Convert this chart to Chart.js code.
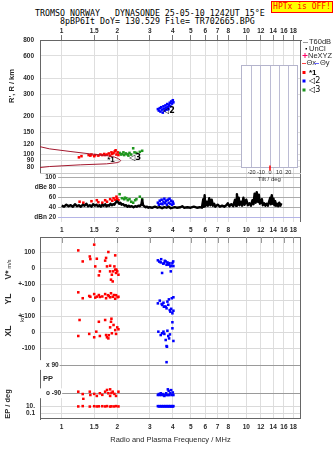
<!DOCTYPE html>
<html>
<head>
<meta charset="utf-8">
<title>Dynasonde ionogram</title>
<script src="https://cdn.jsdelivr.net/npm/chart.js@4.4.1/dist/chart.umd.min.js"></script>
<style>
  body { margin: 0; background: #fff; }
  #page { position: relative; width: 335px; height: 451px; overflow: hidden; background: #fff; }
  #page canvas { position: absolute; }
  .hdr { position: absolute; font: 8.3px "DejaVu Sans Mono", monospace; color: #000; white-space: pre; line-height: 8px; }
  #hptx { position: absolute; left: 271px; top: 1px; width: 60px; height: 10px; border: 1px solid #f00; background: #ff0;
          color: #f00; font: 8px "DejaVu Sans Mono", monospace; line-height: 10px; text-align: center; white-space: pre; }
</style>
</head>
<body>
<div id="page">
  <div class="hdr" style="left:35px; top:9px">TROMSO NORWAY   DYNASONDE 25-05-10 1242UT 15°E</div>
  <div class="hdr" style="left:60px; top:17px">8pBP6It DoY= 130.529 File= TR702665.BPG</div>
  <div id="hptx">HPTx is OFF!</div>
  <canvas id="hgt" width="335" height="150" style="left:0; top:24px"></canvas>
  <canvas id="amp" width="335" height="62" style="left:0; top:174px"></canvas>
  <canvas id="low" width="335" height="215" style="left:0; top:236px"></canvas>
  <canvas id="tilt" width="57" height="120" style="left:241px; top:65px"></canvas>
</div>
<script>
// frequency axis (MHz) shared by every panel
var freqTicks = [1, 1.5, 2, 3, 4, 5, 6, 7, 8, 10, 12, 14, 16, 18];
var heightTicks = [800, 600, 400, 300, 200, 150, 120, 100, 90, 80];
var ampTicks = [100, 80, 60, 40, 20];
var tiltTicks = [-20, -10, 0, 10, 20];

// model profile, upper branch outwards then lower branch back (f MHz, km)
var profile = [[0.763, 115.3], [0.86, 110.8], [1.11, 105.7], [1.42, 101.2], [1.75, 98.1], [1.93, 95.5],
  [2.00, 93.5], [2.07, 91.0], [2.09, 89.5], [2.06, 87.8], [2.00, 86.3], [1.75, 84.4], [1.26, 82.9],
  [0.86, 80.4], [0.763, 79.0]];

// echo virtual heights (f MHz, km)
var echo1Height = [[1.24, 95], [1.28, 97], [1.40, 99], [1.43, 98], [1.45, 100], [1.50, 97], [1.52, 99],
  [1.58, 98], [1.62, 100], [1.66, 99], [1.70, 101], [1.72, 99], [1.76, 100], [1.80, 102], [1.83, 98],
  [1.86, 104], [1.88, 101], [1.91, 103], [1.94, 106], [1.96, 108], [1.98, 100], [2.01, 104], [2.03, 99]];
var echo2Height = [[3.32, 228], [3.36, 222], [3.40, 232], [3.43, 218], [3.46, 236], [3.50, 226], [3.53, 214],
  [3.56, 240], [3.58, 230], [3.62, 222], [3.65, 244], [3.68, 234], [3.70, 226], [3.73, 250], [3.76, 238],
  [3.79, 228], [3.82, 246], [3.85, 256], [3.88, 240], [3.92, 262], [3.96, 252], [4.00, 268], [4.03, 258]];
var echo3Height = [[2.06, 103], [2.10, 100], [2.12, 101], [2.16, 104], [2.18, 99], [2.22, 102], [2.24, 101],
  [2.28, 100], [2.30, 98], [2.33, 103], [2.38, 100], [2.44, 112], [2.48, 104], [2.54, 103], [2.65, 105], [2.73, 107]];

// echo amplitudes and unclassified level (f MHz, dB)
var echo1Amp = [[1.25, 52], [1.31, 50], [1.45, 53], [1.55, 55], [1.58, 51], [1.66, 50], [1.72, 55], [1.76, 52],
  [1.83, 57], [1.88, 54], [1.91, 59], [1.95, 56], [1.98, 62], [2.00, 58], [2.03, 55]];
var echo2Amp = [[3.32, 50], [3.36, 46], [3.40, 54], [3.44, 48], [3.48, 56], [3.52, 47], [3.56, 52], [3.60, 58],
  [3.64, 49], [3.68, 54], [3.72, 46], [3.76, 56], [3.80, 50], [3.84, 58], [3.88, 48], [3.92, 54], [3.96, 46],
  [4.00, 52], [4.03, 48]];
var echo3Amp = [[2.06, 67], [2.12, 59], [2.18, 57], [2.20, 60], [2.24, 59], [2.28, 55], [2.33, 57], [2.38, 52],
  [2.44, 50], [2.50, 55], [2.54, 57], [2.65, 62], [2.73, 57]];
var unclAmp = [[1.00, 44], [1.03, 42], [1.06, 46], [1.09, 43], [1.12, 45], [1.15, 42], [1.18, 47], [1.21, 43],
  [1.24, 45], [1.27, 42], [1.30, 46], [1.33, 44], [1.36, 48], [1.39, 43], [1.42, 45], [1.45, 42], [1.48, 47],
  [1.51, 44], [1.54, 46], [1.57, 43], [1.60, 45], [1.63, 42], [1.66, 46], [1.69, 44], [1.72, 47], [1.75, 43],
  [1.78, 45], [1.81, 44], [1.84, 48], [1.87, 45], [1.90, 47], [1.93, 46], [1.96, 50], [1.99, 53], [2.02, 51],
  [2.05, 48], [2.08, 50], [2.11, 46], [2.15, 47], [2.19, 44], [2.23, 45], [2.27, 42], [2.31, 44], [2.35, 42],
  [2.40, 43], [2.45, 41], [2.50, 43], [2.55, 42], [2.60, 44], [2.65, 43], [2.70, 46], [2.73, 56], [2.76, 45],
  [2.80, 43], [2.85, 41], [2.90, 42], [2.95, 40], [3.0, 41], [3.1, 40], [3.2, 42], [3.3, 40], [3.4, 41],
  [3.5, 39], [3.6, 41], [3.7, 40], [3.8, 42], [3.9, 39], [4.0, 40], [4.1, 41], [4.2, 40], [4.4, 41], [4.5, 43],
  [4.6, 40], [4.8, 41], [5.0, 40], [5.2, 42], [5.4, 40], [5.6, 41], [5.75, 40], [5.85, 57], [5.9, 42],
  [5.95, 65], [6.0, 43], [6.1, 52], [6.2, 44], [6.3, 59], [6.4, 45], [6.5, 56], [6.6, 44], [6.7, 48], [6.8, 42],
  [7.0, 46], [7.2, 42], [7.4, 44], [7.6, 42], [7.8, 45], [7.95, 49], [8.1, 43], [8.3, 47], [8.5, 43], [8.7, 56],
  [8.8, 44], [8.9, 67], [9.0, 46], [9.1, 60], [9.2, 45], [9.35, 52], [9.5, 44], [9.65, 60], [9.8, 46],
  [10.0, 56], [10.2, 45], [10.4, 49], [10.6, 44], [10.8, 55], [10.95, 47], [11.1, 68], [11.25, 50], [11.4, 71],
  [11.55, 52], [11.7, 66], [11.85, 48], [12.0, 50], [12.15, 57], [12.3, 45], [12.5, 49], [12.7, 44], [12.9, 48],
  [13.1, 44], [13.3, 52], [13.5, 60], [13.6, 47], [13.75, 65], [13.9, 48], [14.05, 58], [14.2, 45], [14.35, 53],
  [14.5, 44], [14.7, 48], [14.9, 43], [15.1, 50], [15.3, 44], [15.5, 49]];

// drift velocity V* (m/s)
var echo1V = [[1.23, 110], [1.30, 41], [1.42, 72], [1.43, 56], [1.50, 146], [1.52, 10], [1.55, 58], [1.59, -46],
  [1.61, -21], [1.72, 46], [1.74, 63], [1.76, 10], [1.79, 100], [1.83, 14], [1.83, -21], [1.85, -73], [1.87, -42],
  [1.89, -84], [1.90, -21], [1.93, 10], [1.95, 79], [1.95, -10], [1.97, -31], [1.98, -10], [2.00, -21], [2.03, -42]];
var echo2V = [[3.32, 48], [3.38, 40], [3.44, 35], [3.46, 55], [3.50, -31], [3.55, 27], [3.58, 30], [3.62, 45],
  [3.66, 41], [3.70, 20], [3.74, 35], [3.76, 25], [3.80, 21], [3.84, 30], [3.88, 10], [3.90, -21], [3.93, 15],
  [3.98, 31], [4.02, 41], [4.03, 12]];

// echolocation YL and XL (km)
var echo1YL = [[1.23, 48], [1.30, 11], [1.41, 25], [1.43, 20], [1.50, 37], [1.52, 15], [1.55, 21], [1.59, 31],
  [1.61, 19], [1.66, 22], [1.72, 37], [1.74, 11], [1.78, 30], [1.80, 25], [1.83, 17], [1.85, 42], [1.89, 20],
  [1.92, 31], [1.95, 8], [1.97, 30], [2.01, 18], [2.03, 20]];
var echo2YL = [[3.32, -21], [3.40, -4], [3.48, -25], [3.51, -31], [3.56, -17], [3.58, -42], [3.62, -42],
  [3.66, -42], [3.70, -52], [3.74, -10], [3.78, -30], [3.81, 4], [3.85, -63], [3.88, -73], [3.92, -55],
  [3.95, 11], [3.98, -83], [4.03, 17], [4.03, -67]];
var echo1XL = [[1.25, 75], [1.23, -25], [1.41, -12], [1.50, -33], [1.54, 2], [1.59, 64], [1.61, -25], [1.72, 75],
  [1.74, -19], [1.76, -33], [1.79, -40], [1.80, -20], [1.83, 29], [1.85, 64], [1.86, 83], [1.87, -8], [1.91, 44],
  [1.95, 12], [1.97, -12], [2.00, 29], [2.03, 17]];
var echo2XL = [[3.34, 2], [3.44, -19], [3.50, -8], [3.56, 2], [3.60, -12], [3.66, -50], [3.70, -88], [3.72, -92],
  [3.74, 8], [3.78, -25], [3.82, -40], [3.86, -15], [3.98, 61], [3.98, 23], [4.03, -56]];

// polarization PP and error EP (deg)
var echo1PP = [[1.23, -80], [1.30, -95], [1.31, -126], [1.42, -80], [1.43, -101], [1.50, -94], [1.55, -107],
  [1.61, -90], [1.66, -100], [1.72, -80], [1.76, -69], [1.79, -90], [1.83, -107], [1.83, -65], [1.86, -88],
  [1.89, -80], [1.93, -94], [1.97, -107], [2.03, -80]];
var echo2PP = [[3.32, -101], [3.36, -95], [3.40, -101], [3.44, -90], [3.48, -101], [3.52, -95], [3.56, -101],
  [3.60, -107], [3.64, -101], [3.68, -90], [3.70, 108], [3.72, -101], [3.76, -65], [3.78, -101], [3.80, -75],
  [3.84, -101], [3.88, -90], [3.92, -70], [3.96, -101], [4.00, -85], [4.03, -101]];
var echo1EP = [[1.23, 12], [1.30, 15], [1.42, 11], [1.50, 14], [1.55, 12], [1.59, 13], [1.66, 14], [1.72, 12],
  [1.76, 15], [1.83, 11], [1.86, 13], [1.92, 12], [1.97, 15], [2.03, 12]];
var echo2EP = [[3.32, 15], [3.36, 12], [3.40, 15], [3.44, 12], [3.48, 15], [3.52, 12], [3.56, 15], [3.60, 12],
  [3.64, 15], [3.68, 12], [3.72, 15], [3.76, 12], [3.80, 15], [3.84, 12], [3.88, 15], [3.92, 12], [3.96, 15],
  [4.00, 12], [4.03, 15]];

// mean tilt (deg)
var tiltMark = [[0, 0]];

var red = '#ff0000', blue = '#0000ff', green = '#1e961e', maroon = '#a3182e', ink = '#2a2a2a';
var tickFont = { family: 'Liberation Sans', size: 6.5, weight: 'bold' };
var fLo = 0.763, fHi = 19.8;

Chart.defaults.font.family = 'Liberation Sans';

function pts(a) { return a.map(function (p) { return { x: p[0], y: p[1] }; }); }
function setTicks(list) { return function (s) { s.ticks = list.map(function (v) { return { value: v }; }); }; }
function fitW(w) { return function (s) { s.width = w; s.paddingTop = 0; s.paddingBottom = 0; }; }
function fitH(h) { return function (s) { s.height = h; s.paddingLeft = 0; s.paddingRight = 0; }; }
function labelMap(m) { return function (v) { return m[v] !== undefined ? m[v] : String(v); }; }

function dots(list, color, yID) {
  return { data: pts(list), yAxisID: yID || 'y', pointStyle: 'rect', pointRadius: 1.8, pointBorderWidth: 0,
           pointBackgroundColor: color, pointBorderColor: color, backgroundColor: color, borderColor: color };
}

function freqAxis(pos, h, lo) {
  return {
    type: 'logarithmic', position: pos, min: lo, max: fHi,
    afterBuildTicks: setTicks(freqTicks), afterFit: fitH(h),
    border: { display: pos === 'top', color: '#666' },
    grid: { color: '#dedede', drawTicks: pos === 'top', tickLength: 5, tickColor: '#777' },
    ticks: { autoSkip: false, maxRotation: 0, padding: pos === 'top' ? 0 : 4, color: ink, font: tickFont,
             callback: function (v) { return String(v); } }
  };
}

function base(o) {
  o.responsive = false;
  o.animation = false;
  o.events = [];
  o.plugins = Object.assign({ legend: { display: false }, tooltip: { enabled: false } }, o.plugins || {});
  return o;
}

// free text and small key marks, given in page coordinates or data values
var freeText = {
  id: 'freeText',
  afterDraw: function (chart, args, opts) {
    var ctx = chart.ctx, top = opts.top || 0;
    (opts.items || []).forEach(function (it) {
      var x = it.x, y = it.y - top;
      if (it.fx !== undefined) {
        x = chart.scales.x.getPixelForValue(it.fx);
        y = chart.scales.y.getPixelForValue(it.fy);
      }
      ctx.save();
      ctx.strokeStyle = ctx.fillStyle = it.color || ink;
      ctx.lineWidth = 1;
      if (it.mark === 'line') {
        ctx.beginPath(); ctx.moveTo(x, Math.round(y) + 0.5); ctx.lineTo(it.x2, Math.round(y) + 0.5); ctx.stroke();
      } else if (it.mark === 'dot') {
        ctx.fillRect(x - 0.5, y - 0.5, 1.5, 1.5);
      } else if (it.mark === 'plus') {
        ctx.beginPath(); ctx.moveTo(x - 2.5, y); ctx.lineTo(x + 2.5, y); ctx.moveTo(x, y - 2.5); ctx.lineTo(x, y + 2.5); ctx.stroke();
      } else if (it.mark === 'box') {
        ctx.fillRect(x - 1.5, y - 1.5, 3, 3);
      } else {
        ctx.translate(x, y);
        if (it.rot) ctx.rotate(it.rot * Math.PI / 180);
        ctx.font = it.font || '7.5px "Liberation Sans"';
        ctx.textAlign = it.align || 'center';
        ctx.textBaseline = 'middle';
        ctx.fillText(it.t, 0, 0);
      }
      ctx.restore();
    });
  }
};

// panel outline pieces and inner frequency ticks
var frame = {
  id: 'frame',
  beforeDraw: function (chart, args, o) {
    if (!o.fill) return;
    var a = chart.chartArea;
    chart.ctx.fillStyle = o.fill;
    chart.ctx.fillRect(a.left, a.top, a.width, a.height);
  },
  beforeDatasetsDraw: function (chart, args, o) {
    var a = chart.chartArea, ctx = chart.ctx;
    ctx.save();
    ctx.lineWidth = 1;
    (o.sides || []).forEach(function (s) {
      ctx.strokeStyle = s.color;
      ctx.beginPath();
      if (s.side === 'right') { ctx.moveTo(a.right - 0.5, a.top); ctx.lineTo(a.right - 0.5, a.bottom); }
      if (s.side === 'left') { ctx.moveTo(a.left + 0.5, a.top); ctx.lineTo(a.left + 0.5, a.bottom); }
      if (s.side === 'top') { ctx.moveTo(a.left, a.top + 0.5); ctx.lineTo(a.right, a.top + 0.5); }
      if (s.side === 'bottom') { ctx.moveTo(a.left, a.bottom - 0.5); ctx.lineTo(a.right, a.bottom - 0.5); }
      ctx.stroke();
    });
    if (o.innerTicks) {
      ctx.strokeStyle = '#999';
      ctx.beginPath();
      freqTicks.forEach(function (f) {
        var px = Math.round(chart.scales.x.getPixelForValue(f)) + 0.5;
        ctx.moveTo(px, a.top); ctx.lineTo(px, a.top + o.innerTicks);
      });
      ctx.stroke();
    }
    ctx.restore();
  }
};

Chart.register(freeText, frame);

var legendFont = '7.5px "Liberation Sans"';

// virtual height panel
new Chart(document.getElementById('hgt'), {
  type: 'scatter',
  data: { datasets: [
    { data: pts(profile), showLine: true, borderColor: maroon, borderWidth: 1, pointRadius: 0 },
    dots(echo1Height, red), dots(echo3Height, green), dots(echo2Height, blue)
  ] },
  options: base({
    layout: { padding: { right: 34 }, autoPadding: false },
    scales: {
      x: freqAxis('top', 16, fLo),
      y: { type: 'logarithmic', min: 70.2, max: 800, afterBuildTicks: setTicks(heightTicks), afterFit: fitW(40),
           border: { color: '#666' }, grid: { color: '#dedede', drawTicks: false },
           ticks: { padding: 6, color: ink, font: tickFont, callback: function (v) { return String(v); } } }
    },
    plugins: {
      frame: { sides: [{ side: 'right', color: '#666' }, { side: 'bottom', color: '#c8c8c8' }] },
      freeText: { top: 24, items: [
        { t: "R', R / km", x: 12, y: 86, rot: -90, font: 'bold 7.5px "Liberation Sans"' },
        { t: '*1', fx: 1.85, fy: 91.5, font: 'bold 8px "Liberation Sans"', color: '#000' },
        { t: '\u25C13', fx: 2.50, fy: 94.7, font: 'bold 8px "DejaVu Sans"', color: '#000' },
        { t: '\u25C12', fx: 3.81, fy: 221, font: 'bold 8px "DejaVu Sans"', color: '#000' },
        { mark: 'line', x: 303, x2: 308, y: 42, color: '#999' },
        { t: 'T60dB', x: 309, y: 42, align: 'left', font: legendFont },
        { mark: 'dot', x: 306, y: 48.5, color: '#000' },
        { t: 'UnCl', x: 309, y: 48.5, align: 'left', font: legendFont },
        { mark: 'plus', x: 305, y: 55.5, color: '#f06' },
        { t: 'NeXYZ', x: 308, y: 55.5, align: 'left', font: legendFont },
        { mark: 'line', x: 302, x2: 306, y: 63, color: '#f44' },
        { t: '\u0398x', x: 306.5, y: 63, align: 'left', font: legendFont },
        { mark: 'line', x: 314, x2: 319, y: 63, color: '#66f' },
        { t: '\u0398y', x: 320, y: 63, align: 'left', font: legendFont },
        { mark: 'box', x: 304, y: 72.5, color: red },
        { t: '*1', x: 309, y: 72.5, align: 'left', font: 'bold 8px "Liberation Sans"', color: '#000' },
        { mark: 'box', x: 304, y: 81, color: blue },
        { t: '\u25C12', x: 309, y: 81, align: 'left', font: '8px "DejaVu Sans"', color: '#000' },
        { mark: 'box', x: 304, y: 90, color: green },
        { t: '\u25C13', x: 309, y: 90, align: 'left', font: '8px "DejaVu Sans"', color: '#000' }
      ] }
    }
  })
});

// amplitude panel
new Chart(document.getElementById('amp'), {
  type: 'scatter',
  data: { datasets: [
    { data: pts(unclAmp), showLine: true, borderColor: '#000', borderWidth: 2.4, borderJoinStyle: 'round', pointRadius: 0 },
    dots(echo1Amp, red), dots(echo3Amp, green), dots(echo2Amp, blue)
  ] },
  options: base({
    layout: { padding: { right: 34 }, autoPadding: false },
    scales: {
      x: freqAxis('bottom', 14, 0.955),
      y: { type: 'linear', min: 11.4, max: 107.4, afterBuildTicks: setTicks(ampTicks), afterFit: fitW(58),
           border: { display: false },
           grid: { drawTicks: false, color: function (c) { return c.tick && c.tick.value === 20 ? '#b4b4e6' : '#ababab'; } },
           ticks: { padding: 2, color: ink, font: tickFont,
                    callback: labelMap({ '100': '100', '80': 'dBe 80', '60': '60', '40': '40', '20': 'dBn 20' }) } }
    },
    plugins: { frame: { sides: [{ side: 'right', color: '#666' }] } }
  })
});

// drift, echolocation, polarization and error panels on one stacked axis column
function stackAxis(order, span, lo, hi, ticks, names, extra) {
  var ax = {
    type: 'linear', position: 'left', stack: 'lower', stackWeight: span, weight: order, min: lo, max: hi,
    afterBuildTicks: setTicks(ticks), afterFit: fitW(40),
    border: { color: '#666' }, grid: { color: '#dadada', drawTicks: false },
    ticks: { padding: 5, color: ink, font: tickFont, callback: labelMap(names) }
  };
  return Object.assign(ax, extra || {});
}

var lowX = freqAxis('bottom', 32, fLo);
lowX.title = { display: true, text: 'Radio and Plasma Frequency / MHz', color: ink,
               font: { family: 'Liberation Sans', size: 7.5 }, padding: { top: 0, bottom: 7 } };

new Chart(document.getElementById('low'), {
  type: 'scatter',
  data: { datasets: [
    dots(echo1V, red, 'yV'), dots(echo2V, blue, 'yV'),
    dots(echo1YL, red, 'yYL'), dots(echo2YL, blue, 'yYL'),
    dots(echo1XL, red, 'yXL'), dots(echo2XL, blue, 'yXL'),
    dots(echo1PP, red, 'yPP'), dots(echo2PP, blue, 'yPP'),
    dots(echo1EP, red, 'yEP'), dots(echo2EP, blue, 'yEP')
  ] },
  options: base({
    layout: { padding: { right: 34, top: 1 }, autoPadding: false },
    scales: {
      x: lowX,
      yV: stackAxis(5, 47, -100, 193.75, [100, 0, -100], { '100': '100', '0': '0', '-100': '+-100' }),
      yYL: stackAxis(4, 32, -100, 100, [0, -100], { '0': '0', '-100': '+-100' }),
      yXL: stackAxis(3, 42, -162.5, 100, [0, -100], { '0': '0', '-100': '-100' }),
      yPP: stackAxis(2, 42, -132.9, 134.6, [90, -90], { '90': 'x 90', '-90': 'o -90' }, {
        grid: { color: '#9a9a9a', drawTicks: false },
        ticks: { mirror: true, padding: 6, color: ink, font: tickFont, showLabelBackdrop: true,
                 backdropColor: '#fff', backdropPadding: { left: 6, right: 1, top: 1, bottom: 1 },
                 callback: labelMap({ '90': 'x 90', '-90': 'o -90' }) }
      }),
      yEP: stackAxis(1, 19, 0.00187, 1072, [10, 0.1], { '10': '10.', '0.1': '0.1' }, { type: 'logarithmic' })
    },
    plugins: {
      frame: { innerTicks: 6, sides: [{ side: 'right', color: '#666' }, { side: 'top', color: '#666' }, { side: 'bottom', color: '#666' }] },
      freeText: { top: 236, items: [
        { t: 'V*', x: 9, y: 275, rot: -90, font: 'bold 8.5px "Liberation Sans"' },
        { t: 'm/s', x: 9, y: 264, rot: -90, font: '5.5px "Liberation Sans"' },
        { t: 'YL', x: 9, y: 299, rot: -90, font: 'bold 8.5px "Liberation Sans"' },
        { t: 'km', x: 22, y: 318, rot: -90, font: '6px "Liberation Sans"' },
        { t: 'XL', x: 9, y: 331, rot: -90, font: 'bold 8.5px "Liberation Sans"' },
        { t: 'PP', x: 43, y: 379, align: 'left', font: 'bold 7.5px "Liberation Sans"' },
        { t: 'EP / deg', x: 8, y: 404, rot: -90, font: 'bold 7.5px "Liberation Sans"' }
      ] }
    }
  })
});

// tilt inset
new Chart(document.getElementById('tilt'), {
  type: 'scatter',
  data: { datasets: [
    { data: pts(tiltMark), pointStyle: 'line', rotation: 90, pointRadius: 2.5, pointBorderWidth: 1.5,
      pointBorderColor: red, borderColor: red, clip: false }
  ] },
  options: base({
    layout: { padding: 0, autoPadding: false },
    scales: {
      x: { type: 'linear', min: -31.7, max: 30.6, afterBuildTicks: setTicks(tiltTicks), afterFit: fitH(17),
           border: { display: false }, grid: { color: '#bcbcd4', drawTicks: false },
           ticks: { autoSkip: false, maxRotation: 0, padding: 1, color: ink, font: { family: 'Liberation Sans', size: 5.5 } },
           title: { display: true, text: 'Tilt / deg', color: ink, font: { family: 'Liberation Sans', size: 6 },
                    padding: { top: 0, bottom: 2 } } },
      y: { display: false, min: 0, max: 1 }
    },
    plugins: { frame: { fill: '#fff', sides: [
      { side: 'left', color: '#b4b4cc' }, { side: 'right', color: '#b4b4cc' },
      { side: 'top', color: '#b4b4cc' }, { side: 'bottom', color: '#b4b4cc' }] } }
  })
});
</script>
</body>
</html>
